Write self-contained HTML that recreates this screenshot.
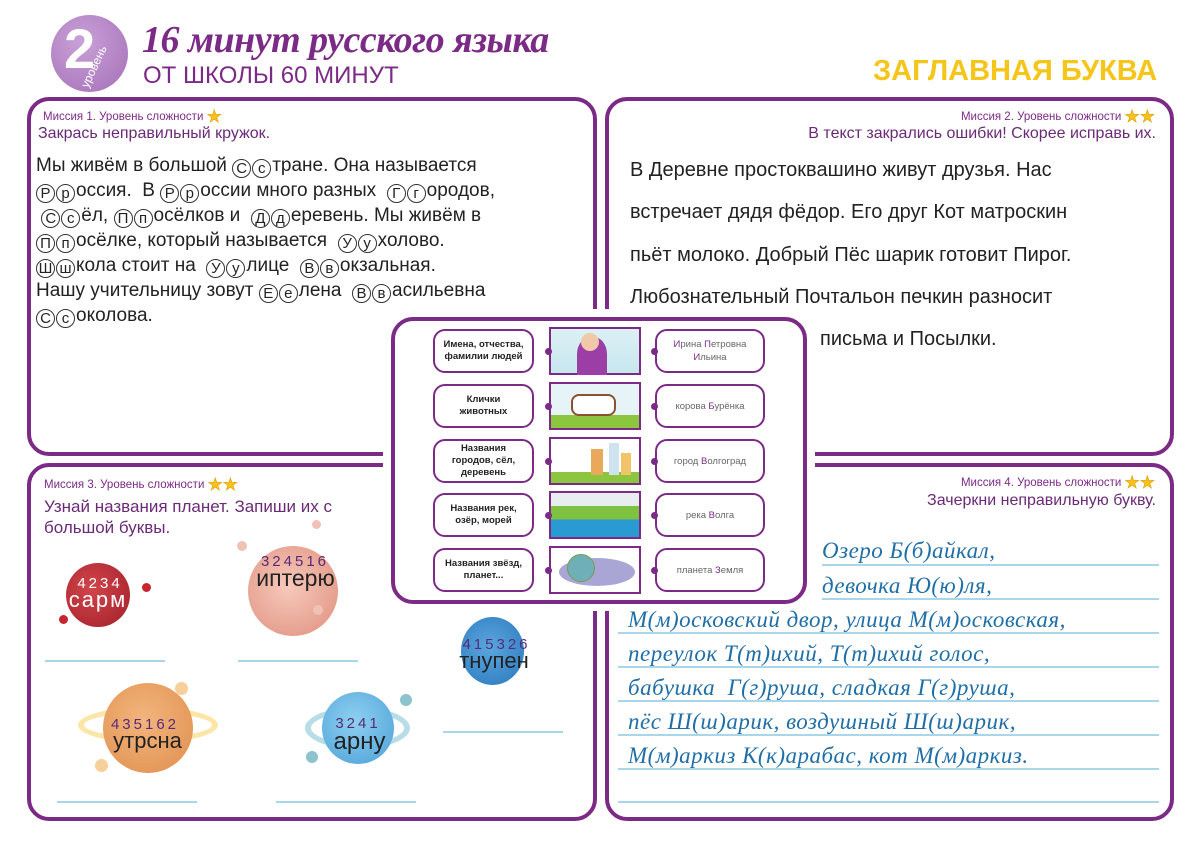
<!DOCTYPE html>
<html><head><meta charset="utf-8"><style>
*{margin:0;padding:0;box-sizing:border-box}
body{width:1200px;height:851px;background:#fff;position:relative;overflow:hidden;font-family:"Liberation Sans","DejaVu Sans",sans-serif;color:#222}
.a{position:absolute}
.panel{position:absolute;border:4px solid #7b2a85;border-radius:22px;background:#fff}
.mis{position:absolute;font-size:11.5px;color:#7b2a85;white-space:nowrap}
.star{display:inline-block;color:#f6c21c;font-size:17px;vertical-align:-2px;-webkit-text-stroke:0.6px #e0a000}
.task{position:absolute;font-size:16px;color:#6a2a75;white-space:nowrap}
.t1{position:absolute;left:36px;font-size:19px;white-space:nowrap;color:#222}
.c{display:inline-block;width:19px;height:19px;border:1.2px solid #333;border-radius:50%;text-align:center;line-height:17px;font-size:15px;vertical-align:-2px;margin-right:1px}
.t2{position:absolute;left:630px;font-size:20px;white-space:nowrap;color:#222}
.hl{position:absolute;height:1.5px;background:#a9d6ea}
.cur{position:absolute;font-family:"Liberation Serif","DejaVu Serif",serif;font-style:italic;font-size:23px;color:#1f6ea6;white-space:nowrap;letter-spacing:0.5px}
.lb{position:absolute;left:433px;width:101px;height:44px;border:2px solid #7b2a85;border-radius:12px;font-size:9.5px;font-weight:bold;text-align:center;display:flex;align-items:center;justify-content:center;line-height:12px}
.rb{position:absolute;left:655px;width:110px;height:44px;border:2px solid #7b2a85;border-radius:12px;font-size:9.5px;color:#666;text-align:center;display:flex;align-items:center;justify-content:center;line-height:13px}
.rb b{color:#7b2a85;font-weight:normal}
.im{position:absolute;left:549px;width:92px;height:48px;border:2px solid #7b2a85}
.dot{position:absolute;width:7px;height:7px;border-radius:50%;background:#7b2a85}
.pl{position:absolute;border-radius:50%}
.num{position:absolute;font-size:15px;color:#5a2a7a;letter-spacing:3px;white-space:nowrap;text-align:center}
.wd{position:absolute;font-size:22px;color:#222;white-space:nowrap;text-align:center}
</style></head><body>

<!-- header -->
<div class="a" style="left:51px;top:15px;width:77px;height:77px;border-radius:50%;background:radial-gradient(circle at 40% 35%,#c9a1d6,#a46fb8)"></div>
<div class="a" style="left:64px;top:16px;font-size:56px;font-weight:bold;color:#fff">2</div>
<div class="a" style="left:78px;top:84px;font-size:12px;color:#fff;transform:rotate(-65deg);transform-origin:left top;white-space:nowrap">уровень</div>
<div class="a" style="left:142px;top:18px;font-family:'Liberation Serif',serif;font-style:italic;font-weight:bold;font-size:38px;color:#7b2a85;white-space:nowrap;letter-spacing:-0.5px">16 минут русского языка</div>
<div class="a" style="left:143px;top:62px;font-size:24px;color:#7b2a85;white-space:nowrap">ОТ ШКОЛЫ 60 МИНУТ</div>
<div class="a" style="left:873px;top:55px;font-size:29px;font-weight:bold;color:#f5c51a;white-space:nowrap">ЗАГЛАВНАЯ БУКВА</div>

<!-- panels -->
<div class="panel" style="left:27px;top:97px;width:570px;height:359px"></div>
<div class="panel" style="left:605px;top:97px;width:569px;height:359px"></div>
<div class="panel" style="left:27px;top:463px;width:570px;height:358px"></div>
<div class="panel" style="left:605px;top:463px;width:569px;height:358px"></div>

<!-- panel 1 -->
<div class="mis" style="left:43px;top:107px">Миссия 1. Уровень сложности <span class="star">★</span></div>
<div class="task" style="left:38px;top:125px">Закрась неправильный кружок.</div>
<div class="t1" style="top:155px">Мы живём в большой <span class="c">С</span><span class="c">с</span>тране. Она называется</div>
<div class="t1" style="top:180px"><span class="c">Р</span><span class="c">р</span>оссия.&nbsp; В <span class="c">Р</span><span class="c">р</span>оссии много разных &nbsp;<span class="c">Г</span><span class="c">г</span>ородов,</div>
<div class="t1" style="top:205px">&nbsp;<span class="c">С</span><span class="c">с</span>ёл, <span class="c">П</span><span class="c">п</span>осёлков и &nbsp;<span class="c">Д</span><span class="c">д</span>еревень. Мы живём в</div>
<div class="t1" style="top:230px"><span class="c">П</span><span class="c">п</span>осёлке, который называется &nbsp;<span class="c">У</span><span class="c">у</span>холово.</div>
<div class="t1" style="top:255px"><span class="c">Ш</span><span class="c">ш</span>кола стоит на &nbsp;<span class="c">У</span><span class="c">у</span>лице &nbsp;<span class="c">В</span><span class="c">в</span>окзальная.</div>
<div class="t1" style="top:280px">Нашу учительницу зовут <span class="c">Е</span><span class="c">е</span>лена &nbsp;<span class="c">В</span><span class="c">в</span>асильевна</div>
<div class="t1" style="top:305px"><span class="c">С</span><span class="c">с</span>околова.</div>

<!-- panel 2 -->
<div class="mis" style="right:45px;top:107px">Миссия 2. Уровень сложности <span class="star">★★</span></div>
<div class="task" style="right:44px;top:125px">В текст закрались ошибки! Скорее исправь их.</div>
<div class="t2" style="top:159px">В Деревне простоквашино живут друзья. Нас</div>
<div class="t2" style="top:201px">встречает дядя фёдор. Его друг Кот матроскин</div>
<div class="t2" style="top:244px">пьёт молоко. Добрый Пёс шарик готовит Пирог.</div>
<div class="t2" style="top:286px">Любознательный Почтальон печкин разносит</div>
<div class="t2" style="left:820px;top:328px">письма и Посылки.</div>

<!-- panel 3 -->
<div class="mis" style="left:44px;top:475px">Миссия 3. Уровень сложности <span class="star">★★</span></div>
<div class="task" style="left:44px;top:496px;font-size:17px;line-height:21px;white-space:normal;width:320px">Узнай названия планет. Запиши их с большой буквы.</div>

<div class="pl" style="left:66px;top:563px;width:64px;height:64px;background:radial-gradient(circle at 40% 40%,#d0454a,#a31f2a)"></div>
<div class="pl" style="left:142px;top:583px;width:9px;height:9px;background:#c9252f"></div>
<div class="pl" style="left:59px;top:615px;width:9px;height:9px;background:#c9252f"></div>
<div class="num" style="left:70px;top:575px;color:#fff;width:60px">4234</div>
<div class="wd" style="left:66px;top:587px;color:#fff;width:64px;letter-spacing:2px">сарм</div>

<div class="pl" style="left:248px;top:546px;width:90px;height:90px;background:radial-gradient(circle at 45% 45%,#f6c9bb,#df8e7c)"></div>
<div class="pl" style="left:237px;top:541px;width:10px;height:10px;background:#f0c2b5"></div>
<div class="pl" style="left:312px;top:520px;width:9px;height:9px;background:#f0c2b5"></div>
<div class="pl" style="left:313px;top:605px;width:10px;height:10px;background:#f0c2b5"></div>
<div class="num" style="left:250px;top:553px;width:90px">324516</div>
<div class="wd" style="left:248px;top:565px;width:95px;font-size:23px">иптерю</div>

<div class="pl" style="left:461px;top:617px;width:63px;height:68px;background:radial-gradient(circle at 45% 45%,#5aa7de,#2a77bd)"></div>
<div class="num" style="left:459px;top:636px;width:75px">415326</div>
<div class="wd" style="left:455px;top:648px;width:78px">тнупен</div>

<div class="a" style="left:78px;top:707px;width:140px;height:36px;border:6px solid #fbe6a8;border-radius:50%"></div>
<div class="pl" style="left:103px;top:683px;width:90px;height:90px;background:radial-gradient(circle at 45% 40%,#f2b57d,#e08e4d)"></div>
<div class="pl" style="left:175px;top:682px;width:13px;height:13px;background:#f6cf9b"></div>
<div class="pl" style="left:95px;top:759px;width:13px;height:13px;background:#f6cf9b"></div>
<div class="num" style="left:95px;top:716px;width:100px">435162</div>
<div class="wd" style="left:95px;top:728px;width:105px">утрсна</div>

<div class="a" style="left:305px;top:707px;width:105px;height:42px;border:6px solid #b9dde6;border-radius:50%"></div>
<div class="pl" style="left:322px;top:692px;width:72px;height:72px;background:radial-gradient(circle at 45% 40%,#8fd0f0,#4aa0d8)"></div>
<div class="pl" style="left:400px;top:694px;width:12px;height:12px;background:#8cc3cd"></div>
<div class="pl" style="left:306px;top:751px;width:12px;height:12px;background:#8cc3cd"></div>
<div class="num" style="left:328px;top:715px;width:60px">3241</div>
<div class="wd" style="left:322px;top:728px;width:75px;font-size:24px">арну</div>

<div class="hl" style="left:45px;top:660px;width:120px"></div>
<div class="hl" style="left:238px;top:660px;width:120px"></div>
<div class="hl" style="left:443px;top:731px;width:120px"></div>
<div class="hl" style="left:57px;top:801px;width:140px"></div>
<div class="hl" style="left:276px;top:801px;width:140px"></div>

<!-- panel 4 -->
<div class="mis" style="right:45px;top:473px">Миссия 4. Уровень сложности <span class="star">★★</span></div>
<div class="task" style="right:44px;top:492px">Зачеркни неправильную букву.</div>
<div class="hl" style="left:822px;top:564px;width:337px"></div>
<div class="hl" style="left:822px;top:598px;width:337px"></div>
<div class="hl" style="left:618px;top:632px;width:541px"></div>
<div class="hl" style="left:618px;top:666px;width:541px"></div>
<div class="hl" style="left:618px;top:700px;width:541px"></div>
<div class="hl" style="left:618px;top:734px;width:541px"></div>
<div class="hl" style="left:618px;top:768px;width:541px"></div>
<div class="hl" style="left:618px;top:801px;width:541px"></div>
<div class="cur" style="left:822px;top:538px">Озеро Б(б)айкал,</div>
<div class="cur" style="left:822px;top:573px">девочка Ю(ю)ля,</div>
<div class="cur" style="left:628px;top:607px">М(м)осковский двор, улица М(м)осковская,</div>
<div class="cur" style="left:628px;top:641px">переулок Т(т)ихий, Т(т)ихий голос,</div>
<div class="cur" style="left:628px;top:675px">бабушка&nbsp; Г(г)руша, сладкая Г(г)руша,</div>
<div class="cur" style="left:628px;top:709px">пёс Ш(ш)арик, воздушный Ш(ш)арик,</div>
<div class="cur" style="left:628px;top:743px">М(м)аркиз К(к)арабас, кот М(м)аркиз.</div>

<!-- center overlay -->
<div class="a" style="left:383px;top:309px;width:432px;height:302px;background:#fff;border-radius:28px"></div>
<div class="panel" style="left:391px;top:317px;width:416px;height:287px;border-radius:22px"></div>

<div class="lb" style="top:329px"><div>Имена, отчества,<br>фамилии людей</div></div>
<div class="lb" style="top:384px"><div>Клички<br>животных</div></div>
<div class="lb" style="top:439px"><div>Названия<br>городов, сёл,<br>деревень</div></div>
<div class="lb" style="top:493px"><div>Названия рек,<br>озёр, морей</div></div>
<div class="lb" style="top:548px"><div>Названия звёзд,<br>планет...</div></div>

<div class="im" style="top:327px;background:linear-gradient(#dcf0f5,#c7e7ee)"><div class="a" style="left:26px;top:8px;width:30px;height:38px;border-radius:45% 45% 0 0;background:#9b3fa6"></div><div class="a" style="left:30px;top:4px;width:18px;height:18px;border-radius:50%;background:#f2c9a8"></div></div>
<div class="im" style="top:382px;background:linear-gradient(#e6f4f8 70%,#8cc63f 70%)"><div class="a" style="left:20px;top:10px;width:45px;height:22px;border-radius:8px;background:#fff;border:2px solid #8a5230"></div></div>
<div class="im" style="top:437px;background:linear-gradient(#fff 75%,#8cc63f 75%)"><div class="a" style="left:40px;top:10px;width:12px;height:26px;background:#e9a85a"></div><div class="a" style="left:58px;top:4px;width:10px;height:32px;background:#cfe3ef"></div><div class="a" style="left:70px;top:14px;width:10px;height:22px;background:#f2c46a"></div></div>
<div class="im" style="top:491px;background:linear-gradient(#e8eef0 30%,#7fc242 30%,#7fc242 60%,#2a9ad3 60%)"></div>
<div class="im" style="top:546px;background:#fff"><div class="a" style="left:8px;top:10px;width:76px;height:28px;border-radius:50%;background:#a9a6d6"></div><div class="pl" style="left:16px;top:6px;width:28px;height:28px;background:#6fb0b8;border:1px solid #7a9a50"></div></div>

<div class="rb" style="top:329px"><div><b>И</b>рина <b>П</b>етровна<br><b>И</b>льина</div></div>
<div class="rb" style="top:384px"><div>корова <b>Б</b>урёнка</div></div>
<div class="rb" style="top:439px"><div>город <b>В</b>олгоград</div></div>
<div class="rb" style="top:493px"><div>река <b>В</b>олга</div></div>
<div class="rb" style="top:548px"><div>планета <b>З</b>емля</div></div>

<div class="dot" style="left:545px;top:348px"></div><div class="dot" style="left:651px;top:348px"></div>
<div class="dot" style="left:545px;top:403px"></div><div class="dot" style="left:651px;top:403px"></div>
<div class="dot" style="left:545px;top:458px"></div><div class="dot" style="left:651px;top:458px"></div>
<div class="dot" style="left:545px;top:512px"></div><div class="dot" style="left:651px;top:512px"></div>
<div class="dot" style="left:545px;top:567px"></div><div class="dot" style="left:651px;top:567px"></div>
</body></html>
